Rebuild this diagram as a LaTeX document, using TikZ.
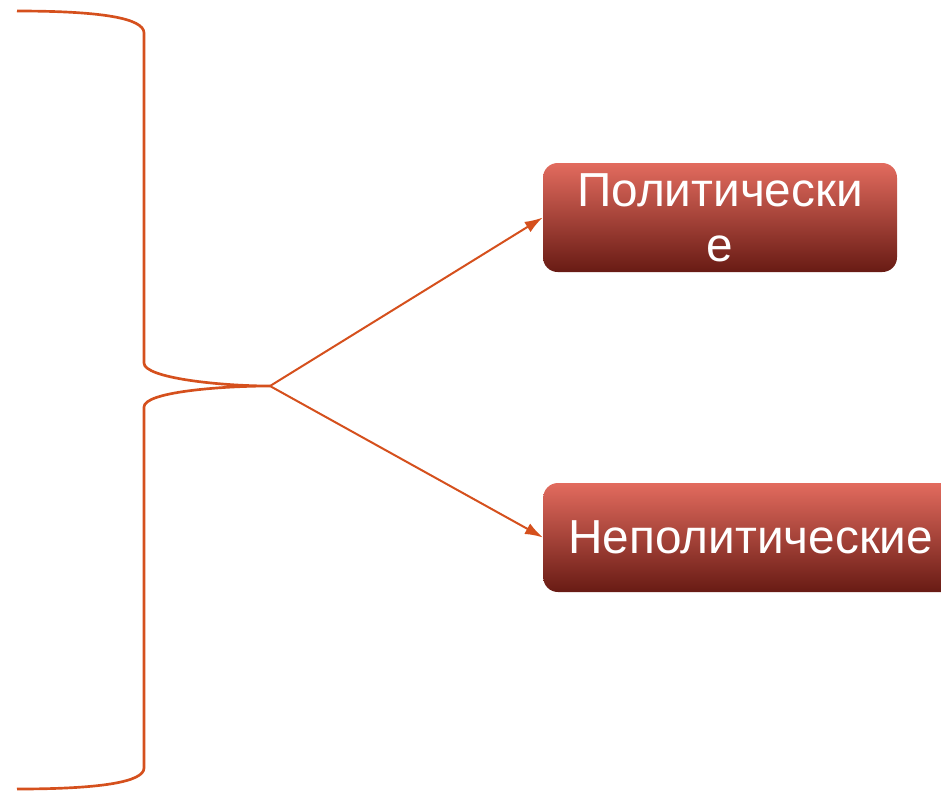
\documentclass[tikz,border=0pt]{standalone}
\usepackage{fontspec}
\setmainfont{Liberation Sans}
\usepackage[HTML]{xcolor}
\usepackage{tikz}
\usetikzlibrary{positioning, arrows, arrows.meta}

\definecolor{bracered}{HTML}{D5501D}
\definecolor{boxtop}{HTML}{E26B5E}
\definecolor{boxmid}{HTML}{B0281C}
\definecolor{boxbot}{HTML}{681B14}

\tikzset{
  kindbox/.style={rounded corners=11pt, top color=boxtop, middle color=boxmid,
    bottom color=boxbot, text=white, inner sep=0pt, minimum height=81.75pt,
    align=center, font=\fontsize{35.8}{41.5}\selectfont},
  branch/.style={bracered, line width=1.5pt, -{Latex[length=13.5pt,width=9pt]}}
}

\begin{document}
\begin{tikzpicture}[x=0.75pt,y=-0.75pt]
\useasboundingbox (0,0) rectangle (941,790);
% brace
\draw[bracered, line width=2pt] (17,11) .. controls (100,11) and (144,18) .. (144,33)
  -- (144,363) .. controls (144,378) and (220,386) .. (270,386)
  .. controls (220,386) and (144,392) .. (144,407)
  -- (144,768) .. controls (144,782) and (100,789) .. (17,789);
\coordinate (tip) at (270,386);
% boxes
\node[kindbox, minimum width=265.5pt] (pol) at (720,217.5) {Политически\\е};
\node[kindbox, anchor=west, inner xsep=18.75pt] (nepol) at (543,537.5) {Неполитические};
% arrows
\draw[branch] (tip) -- (pol.west);
\draw[branch] (tip) -- (nepol.west);
\end{tikzpicture}
\end{document}
